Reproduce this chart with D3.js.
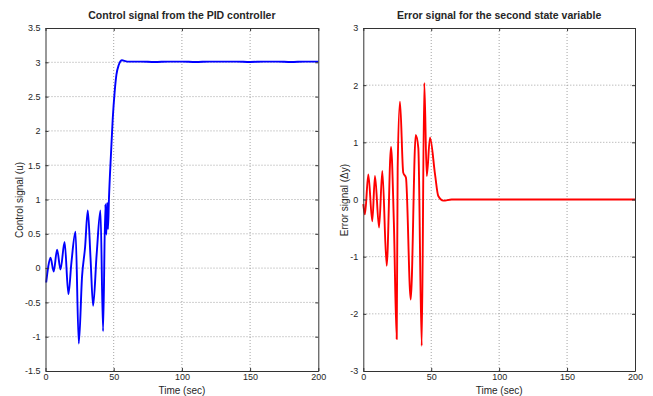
<!DOCTYPE html>
<html>
<head>
<meta charset="utf-8">
<script src="https://cdn.jsdelivr.net/npm/d3@7"></script>
<style>
body { margin: 0; background: #fff; }
text { font-family: "Liberation Sans", Arial, sans-serif; fill: #262626; }
</style>
</head>
<body>
<svg id="chart" width="653" height="396"></svg>
<script>
/*
    Chart values
*/
var timeTicks = [0, 50, 100, 150, 200];
var uTicks = [-1.5, -1, -0.5, 0, 0.5, 1, 1.5, 2, 2.5, 3, 3.5];
var eTicks = [-3, -2, -1, 0, 1, 2, 3];

// control signal u(t)
var uTime = [0.5, 2, 3.7, 6, 8.5, 11, 14, 16.8, 19, 22, 24.4, 26.8, 29, 31, 33, 34.9, 37.5, 40.3, 42.2,
    43.9, 44.6, 45.2, 45.8, 46.5, 48.1, 49.3, 50.7, 52, 53.7, 56.1, 58, 61,
    70, 80, 90, 100, 110, 120, 130, 140, 150, 160, 170, 180, 190, 200];
var uValue = [-0.21, 0.02, 0.15, -0.05, 0.27, -0.02, 0.38, -0.38, 0.08, 0.53, -1.1, -0.12, 0.3, 0.84, 0.15, -0.55, 0.2, 0.84, -0.92,
    0.93, 0.49, 0.95, 0.57, 1.0, 1.70, 2.18, 2.57, 2.82, 2.96, 3.03, 3.02, 3.01,
    3.01, 3.005, 3.01, 3.01, 3.005, 3.01, 3.01, 3.01, 3.005, 3.01, 3.01, 3.005, 3.01, 3.01];

// error signal of the second state variable
var eTime = [0, 1.2, 3.7, 6.6, 8.6, 11.6, 14, 17.2, 20.4, 22.5, 24.6, 25.3, 27, 29.4, 31.4, 34.9, 38.6, 40.5, 43,
    44.9, 46.7, 49.1, 52.8, 55.2, 58.9, 65, 100, 150, 200];
var eValue = [-0.08, -0.26, 0.44, -0.38, 0.41, -0.49, 0.50, -1.16, 0.92, -0.4, -2.44, 0.55, 1.71, 0.47, 0.38, -1.75, 1.13, 0.9, -2.56,
    2.04, 0.41, 1.08, 0.44, 0.06, -0.02, 0, 0, 0, 0];

var svg = d3.select("#chart");

var panels = [
    {
        box: { left: 45.5, right: 318.3, top: 28, bottom: 371 },
        title: "Control signal from the PID controller",
        ylabel: "Control signal (u)",
        ylabelX: 22.5,
        yDomain: [-1.5, 3.5],
        yTicks: uTicks,
        xs: uTime, ys: uValue,
        color: "#0000ff"
    },
    {
        box: { left: 363.3, right: 635, top: 28, bottom: 371 },
        title: "Error signal for the second state variable",
        ylabel: "Error signal (\u0394y)",
        ylabelX: 347.5,
        yDomain: [-3, 3],
        yTicks: eTicks,
        xs: eTime, ys: eValue,
        color: "#ff0000"
    }
];

panels.forEach(drawPanel);

function drawPanel(p) {
    var b = p.box;
    var x = d3.scaleLinear().domain([0, 200]).range([b.left, b.right]);
    var y = d3.scaleLinear().domain(p.yDomain).range([b.bottom, b.top]);
    var g = svg.append("g");

    // dotted grid
    g.selectAll(".vgrid").data(timeTicks.slice(1, -1)).enter().append("line")
        .attr("x1", d => x(d)).attr("x2", d => x(d))
        .attr("y1", b.top).attr("y2", b.bottom)
        .attr("stroke", "#8c8c8c").attr("stroke-width", 0.8).attr("stroke-dasharray", "1,2");
    g.selectAll(".hgrid").data(p.yTicks.slice(1, -1)).enter().append("line")
        .attr("x1", b.left).attr("x2", b.right)
        .attr("y1", d => y(d)).attr("y2", d => y(d))
        .attr("stroke", "#8c8c8c").attr("stroke-width", 0.8).attr("stroke-dasharray", "1,2");

    // the signal
    var line = d3.line()
        .x((d, i) => x(p.xs[i]))
        .y(d => y(d))
        .curve(d3.curveMonotoneX);
    g.append("path")
        .datum(p.ys)
        .attr("d", line)
        .attr("fill", "none")
        .attr("stroke", p.color)
        .attr("stroke-width", 1.9)
        .attr("stroke-linejoin", "round");

    // axes box with inward ticks (matlab style)
    g.append("g").attr("transform", "translate(0," + b.bottom + ")")
        .call(d3.axisBottom(x).tickValues(timeTicks).tickSizeInner(-3).tickSizeOuter(0).tickPadding(3).tickFormat(d => d));
    g.append("g").attr("transform", "translate(0," + b.top + ")")
        .call(d3.axisTop(x).tickValues(timeTicks).tickSizeInner(-3).tickSizeOuter(0).tickFormat(""));
    g.append("g").attr("transform", "translate(" + b.left + ",0)")
        .call(d3.axisLeft(y).tickValues(p.yTicks).tickSizeInner(-3).tickSizeOuter(0).tickPadding(5).tickFormat(d => d));
    g.append("g").attr("transform", "translate(" + b.right + ",0)")
        .call(d3.axisRight(y).tickValues(p.yTicks).tickSizeInner(-3).tickSizeOuter(0).tickFormat(""));

    g.selectAll(".domain").attr("stroke", "#333");
    g.selectAll(".tick line").attr("stroke", "#333");
    g.selectAll(".tick text").attr("font-size", 9).attr("fill", "#262626")
        .style("font-family", "'Liberation Sans', Arial, sans-serif");

    // title and labels
    g.append("text")
        .attr("x", (b.left + b.right) / 2).attr("y", 19)
        .attr("text-anchor", "middle")
        .attr("font-size", 10.5).attr("font-weight", "bold")
        .text(p.title);
    g.append("text")
        .attr("x", (b.left + b.right) / 2).attr("y", 393.5)
        .attr("text-anchor", "middle")
        .attr("font-size", 10)
        .text("Time (sec)");
    g.append("text")
        .attr("transform", "translate(" + p.ylabelX + "," + 200 + ") rotate(-90)")
        .attr("text-anchor", "middle")
        .attr("font-size", 10)
        .text(p.ylabel);
}
</script>
</body>
</html>
